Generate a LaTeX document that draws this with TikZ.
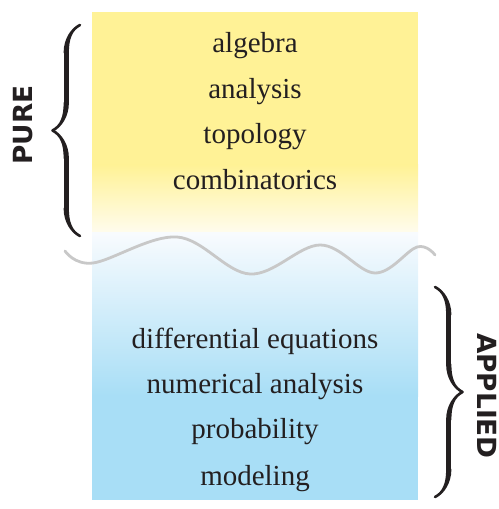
\documentclass[tikz,border=0pt]{standalone}
\usepackage{fontspec}
\setmainfont{Liberation Serif}
\setsansfont{DejaVu Sans}
\usetikzlibrary{
    positioning,
    decorations.pathreplacing,
    calligraphy
}
\definecolor{pureYellow}{RGB}{255,242,150}
\definecolor{pureFade}{RGB}{255,252,238}
\definecolor{appTop}{RGB}{248,251,254}
\definecolor{appBlue}{RGB}{168,222,246}
\definecolor{waveGray}{RGB}{200,200,200}
\definecolor{ink}{RGB}{35,31,32}
\tikzset{
  field/.style  = {font=\fontsize{16.5}{19}\selectfont, text=ink, anchor=base},
  side/.style   = {font=\sffamily\bfseries\fontsize{15}{18}\selectfont, text=ink},
  curly/.style  = {decorate, decoration={calligraphic brace, amplitude=0.55cm},
                   line width=3pt, pen colour={ink}},
  wave/.style   = {waveGray, line width=1.6pt, line cap=round}
}

\begin{document}
\begin{tikzpicture}[x=0.02cm, y=-0.02cm]
  \useasboundingbox (0,0) rectangle (498,509);

  % Pure box
  \fill[pureYellow] (92,12) rectangle (418,166);
  \shade[top color=pureYellow, bottom color=pureFade] (92,165) rectangle (418,233);

  % Applied box
  \shade[top color=appTop, bottom color=appBlue] (92,233) rectangle (418,396);
  \fill[appBlue] (92,395) rectangle (418,500);

  % Wavy cut
  \draw[wave] plot[smooth, tension=0.6] coordinates
    {(65,251) (93,263) (177,237) (250,274) (320,245) (375,273) (417,247) (435,255)};

  % Pure fields
  \node[field] (alg)  at (255,53)  {algebra};
  \node[field] (ana)  at (255,99)  {analysis};
  \node[field] (top)  at (255,144) {topology};
  \node[field] (comb) at (255,190) {combinatorics};

  % Applied fields
  \node[field] (diff) at (255,348) {differential equations};
  \node[field] (num)  at (255,393) {numerical analysis};
  \node[field] (prob) at (255,438) {probability};
  \node[field] (mod)  at (255,485) {modeling};

  % Braces
  \coordinate (pureLo) at (80,236);
  \coordinate (pureHi) at (80,25);
  \coordinate (appHi) at (435,287);
  \coordinate (appLo) at (435,497);
  \draw[curly] (pureLo) -- (pureHi);
  \draw[curly] (appHi) -- (appLo);

  % Labels
  \node[side, rotate=90]  (pure)    at (23,125)  {PURE};
  \node[side, rotate=-90] (applied) at (487,396) {APPLIED};
\end{tikzpicture}
\end{document}
